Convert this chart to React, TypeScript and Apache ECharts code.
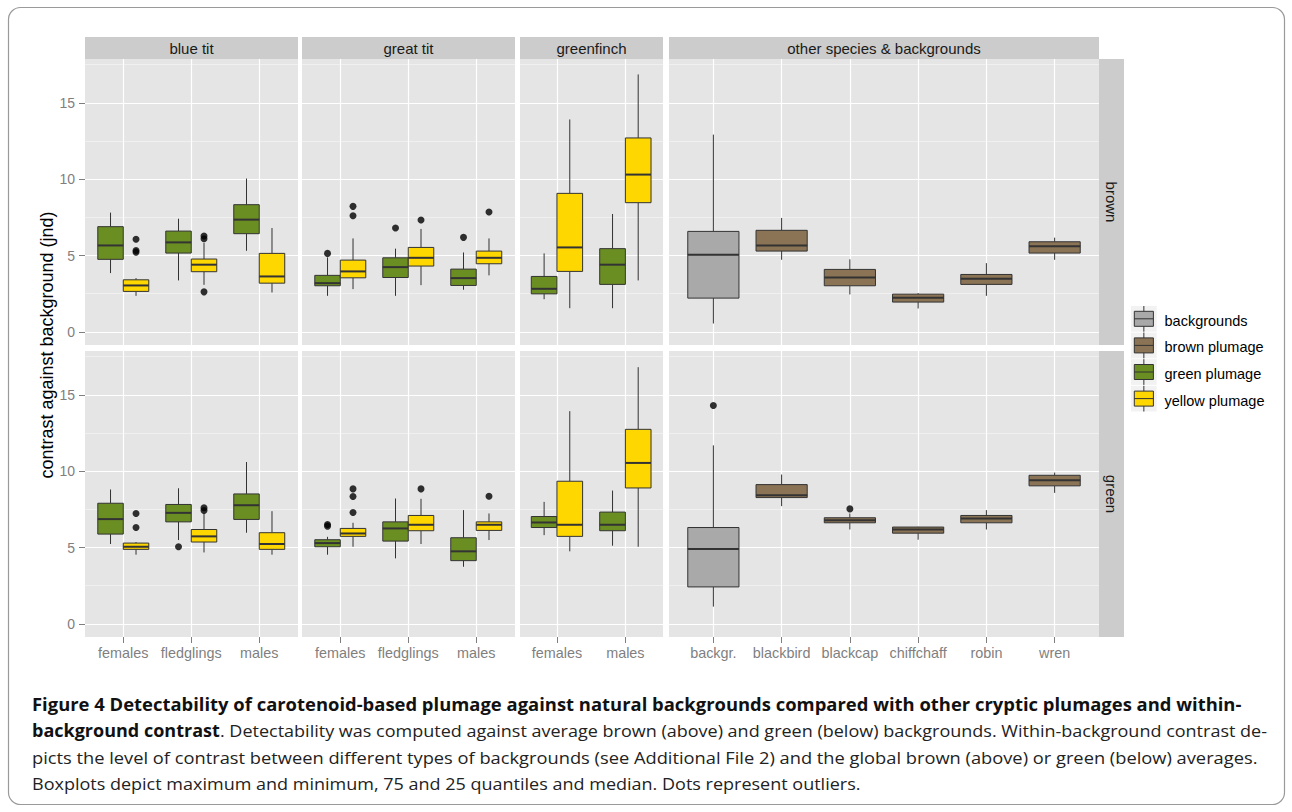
import React, { useEffect, useRef } from "react";
import * as echarts from "echarts";

// ---------- categories & labels ----------
const blueTitCats = ["females", "fledglings", "males"];
const greatTitCats = ["females", "fledglings", "males"];
const greenfinchCats = ["females", "males"];
const otherCats = ["backgr.", "blackbird", "blackcap", "chiffchaff", "robin", "wren"];
const panelTitles = ["blue tit", "great tit", "greenfinch", "other species & backgrounds"];
const rowTitles = ["brown", "green"];
const yTicks = [0, 5, 10, 15];
const yMinorTicks = [2.5, 7.5, 12.5, 17.5];
const legendLabels = ["backgrounds", "brown plumage", "green plumage", "yellow plumage"];
const yTitle = "contrast against background (jnd)";

// ---------- box statistics: [min, Q1, median, Q3, max] ----------
// brown background (upper row)
const blueTitBrownGreen = [[3.85, 4.75, 5.66, 6.89, 7.81], [3.37, 5.16, 5.86, 6.6, 7.41], [5.31, 6.43, 7.35, 8.33, 10.04]];
const blueTitBrownYellow = [[2.36, 2.65, 3.04, 3.41, 3.52], [3.08, 3.94, 4.4, 4.77, 5.82], [2.58, 3.19, 3.63, 5.14, 6.8]];
const greatTitBrownGreen = [[2.36, 3.02, 3.19, 3.7, 4.88], [2.36, 3.56, 4.24, 4.85, 5.45], [2.76, 3.04, 3.52, 4.11, 5.2]];
const greatTitBrownYellow = [[2.8, 3.54, 3.96, 4.7, 6.12], [3.06, 4.31, 4.85, 5.53, 6.74], [3.7, 4.46, 4.85, 5.29, 6.12]];
const greenfinchBrownGreen = [[2.14, 2.49, 2.82, 3.63, 5.14], [1.55, 3.11, 4.4, 5.45, 7.72]];
const greenfinchBrownYellow = [[1.55, 3.96, 5.53, 9.07, 13.91], [3.37, 8.46, 10.3, 12.7, 16.86]];
const backgroundsBrown = [[0.55, 2.21, 5.05, 6.58, 12.92]];
const brownPlumageBrown = [[4.72, 5.29, 5.66, 6.65, 7.46], [2.45, 3.02, 3.56, 4.09, 4.75], [1.53, 1.95, 2.23, 2.47, 2.54], [2.36, 3.11, 3.48, 3.76, 4.5], [4.72, 5.16, 5.6, 5.9, 6.17]];

// green background (lower row)
const blueTitGreenGreen = [[5.23, 5.88, 6.86, 7.9, 8.8], [5.49, 6.68, 7.27, 7.82, 8.88], [5.97, 6.84, 7.77, 8.51, 10.6]];
const blueTitGreenYellow = [[4.53, 4.88, 5.05, 5.29, 5.36], [4.68, 5.36, 5.73, 6.18, 7.22], [4.53, 4.88, 5.23, 5.97, 7.38]];
const greatTitGreenGreen = [[4.53, 5.05, 5.29, 5.51, 5.7], [4.29, 5.42, 6.25, 6.68, 8.21], [3.74, 4.14, 4.75, 5.64, 7.45]];
const greatTitGreenYellow = [[5.05, 5.73, 5.92, 6.25, 6.62], [5.23, 6.1, 6.49, 7.1, 8.19], [5.49, 6.12, 6.49, 6.68, 7.23]];
const greenfinchGreenGreen = [[5.81, 6.31, 6.64, 7.03, 7.99], [5.12, 6.1, 6.49, 7.32, 8.73]];
const greenfinchGreenYellow = [[4.75, 5.73, 6.49, 9.34, 13.93], [5.05, 8.9, 10.54, 12.74, 16.81]];
const backgroundsGreen = [[1.13, 2.42, 4.9, 6.31, 11.69]];
const brownPlumageGreen = [[7.71, 8.27, 8.43, 9.12, 9.78], [6.18, 6.62, 6.79, 6.95, 7.23], [5.51, 5.94, 6.18, 6.34, 6.36], [6.18, 6.62, 6.9, 7.1, 7.45], [8.58, 9.04, 9.41, 9.73, 9.91]];

// ---------- outliers: [category index, value] ----------
const blueTitBrownGreenOut: number[][] = [];
const blueTitBrownYellowOut = [[0, 6.06], [0, 5.22], [0, 5.33], [1, 6.1], [1, 6.28], [1, 2.62]];
const greatTitBrownGreenOut = [[0, 5.14], [1, 6.8], [2, 6.19]];
const greatTitBrownYellowOut = [[0, 8.22], [0, 7.6], [1, 7.33], [2, 7.85]];
const blueTitGreenGreenOut = [[1, 5.05]];
const blueTitGreenYellowOut = [[0, 7.23], [0, 6.31], [1, 7.6], [1, 7.42]];
const greatTitGreenGreenOut = [[0, 6.51], [0, 6.4]];
const greatTitGreenYellowOut = [[0, 8.84], [0, 8.34], [0, 7.29], [1, 8.84], [2, 8.36]];
const backgroundsGreenOut = [[0, 14.3]];
const brownPlumageGreenOut = [[2, 7.53]];
const noOut: number[][] = [];

// ---------- styles ----------
const GRAY = "#A9A9A9";
const BROWN = "#8B7355";
const GREEN = "#6B8E23";
const YELLOW = "#FFD700";
const legendColors = [GRAY, BROWN, GREEN, YELLOW];
const EDGE = "#333333";
const AXIS_GREY = "#7F7F7F";
const FONT = "Liberation Sans";

const columns = [
  { cats: blueTitCats, left: 85, width: 213, min: -0.563, max: 2.57 },
  { cats: greatTitCats, left: 302, width: 213, min: -0.563, max: 2.57 },
  { cats: greenfinchCats, left: 520, width: 143, min: -0.54, max: 1.55 },
  { cats: otherCats, left: 669, width: 430, min: -0.65, max: 5.65 },
];
const rows = [
  { top: 59, height: 286 },
  { top: 351, height: 286 },
];
const Y_MIN = -0.86;
const Y_MAX = 17.87;
const D = 0.1875;

type Group = { stats: number[][]; out: number[][]; color: string; start: number; dx: number; hw: number };
const panelGroups: Group[][][] = [
  [
    [
      { stats: blueTitBrownGreen, out: blueTitBrownGreenOut, color: GREEN, start: 0, dx: -D, hw: D },
      { stats: blueTitBrownYellow, out: blueTitBrownYellowOut, color: YELLOW, start: 0, dx: D, hw: D },
    ],
    [
      { stats: greatTitBrownGreen, out: greatTitBrownGreenOut, color: GREEN, start: 0, dx: -D, hw: D },
      { stats: greatTitBrownYellow, out: greatTitBrownYellowOut, color: YELLOW, start: 0, dx: D, hw: D },
    ],
    [
      { stats: greenfinchBrownGreen, out: noOut, color: GREEN, start: 0, dx: -D, hw: D },
      { stats: greenfinchBrownYellow, out: noOut, color: YELLOW, start: 0, dx: D, hw: D },
    ],
    [
      { stats: backgroundsBrown, out: noOut, color: GRAY, start: 0, dx: 0, hw: 2 * D },
      { stats: brownPlumageBrown, out: noOut, color: BROWN, start: 1, dx: 0, hw: 2 * D },
    ],
  ],
  [
    [
      { stats: blueTitGreenGreen, out: blueTitGreenGreenOut, color: GREEN, start: 0, dx: -D, hw: D },
      { stats: blueTitGreenYellow, out: blueTitGreenYellowOut, color: YELLOW, start: 0, dx: D, hw: D },
    ],
    [
      { stats: greatTitGreenGreen, out: greatTitGreenGreenOut, color: GREEN, start: 0, dx: -D, hw: D },
      { stats: greatTitGreenYellow, out: greatTitGreenYellowOut, color: YELLOW, start: 0, dx: D, hw: D },
    ],
    [
      { stats: greenfinchGreenGreen, out: noOut, color: GREEN, start: 0, dx: -D, hw: D },
      { stats: greenfinchGreenYellow, out: noOut, color: YELLOW, start: 0, dx: D, hw: D },
    ],
    [
      { stats: backgroundsGreen, out: backgroundsGreenOut, color: GRAY, start: 0, dx: 0, hw: 2 * D },
      { stats: brownPlumageGreen, out: brownPlumageGreenOut, color: BROWN, start: 1, dx: 0, hw: 2 * D },
    ],
  ],
];

const captionBold1 =
  "Figure 4 Detectability of carotenoid-based plumage against natural backgrounds compared with other cryptic plumages and within-";
const captionBold2 = "background contrast";
const captionNormal2 =
  ". Detectability was computed against average brown (above) and green (below) backgrounds. Within-background contrast de-";
const captionNormal3 =
  "picts the level of contrast between different types of backgrounds (see Additional File 2) and the global brown (above) or green (below) averages.";
const captionNormal4 =
  "Boxplots depict maximum and minimum, 75 and 25 quantiles and median. Dots represent outliers.";

function boxRender(fill: string) {
  return (_params: any, api: any) => {
    const x = api.value(0);
    const hw = api.value(6);
    const lo = api.coord([x, api.value(1)]);
    const q1 = api.coord([x, api.value(2)]);
    const md = api.coord([x, api.value(3)]);
    const q3 = api.coord([x, api.value(4)]);
    const hi = api.coord([x, api.value(5)]);
    const xl = api.coord([x - hw, api.value(3)])[0];
    const xr = api.coord([x + hw, api.value(3)])[0];
    return {
      type: "group",
      children: [
        { type: "line", shape: { x1: lo[0], y1: lo[1], x2: q1[0], y2: q1[1] }, style: { stroke: EDGE, lineWidth: 1 } },
        { type: "line", shape: { x1: q3[0], y1: q3[1], x2: hi[0], y2: hi[1] }, style: { stroke: EDGE, lineWidth: 1 } },
        {
          type: "rect",
          shape: { x: xl, y: q3[1], width: xr - xl, height: q1[1] - q3[1] },
          style: { fill, stroke: EDGE, lineWidth: 1 },
        },
        { type: "line", shape: { x1: xl, y1: md[1], x2: xr, y2: md[1] }, style: { stroke: EDGE, lineWidth: 2 } },
      ],
    };
  };
}

function measure(font: string, text: string): number {
  const c = document.createElement("canvas").getContext("2d");
  if (!c) return text.length * 8;
  c.font = font;
  return c.measureText(text).width;
}

function txt(x: number, y: number, text: string, o: any = {}) {
  const { rotation, scaleX, ...style } = o;
  return {
    type: "text",
    x,
    y,
    rotation: rotation || 0,
    scaleX: scaleX || 1,
    silent: true,
    style: {
      text,
      fontFamily: FONT,
      fontSize: 14,
      fill: "#1A1A1A",
      align: "center",
      textAlign: "center",
      verticalAlign: "middle",
      textVerticalAlign: "middle",
      ...style,
    },
  };
}

function buildOption() {
  const grid: any[] = [];
  const xAxis: any[] = [];
  const yAxis: any[] = [];
  const series: any[] = [];
  const graphic: any[] = [];

  rows.forEach((row, r) => {
    columns.forEach((col, c) => {
      const g = grid.length;
      grid.push({
        left: col.left,
        top: row.top,
        width: col.width,
        height: row.height,
        show: true,
        backgroundColor: "#E5E5E5",
        borderWidth: 0,
        containLabel: false,
        outerBoundsMode: "none",
      });
      const catIdx = col.cats.map((_, i) => i);
      xAxis.push({
        type: "value",
        gridIndex: g,
        min: col.min,
        max: col.max,
        position: "bottom",
        axisLine: { show: false, onZero: false },
        axisTick: { show: r === 1, length: 6, customValues: catIdx, lineStyle: { color: AXIS_GREY, width: 1 } },
        axisLabel: {
          show: r === 1,
          customValues: catIdx,
          formatter: (v: number) => col.cats[Math.round(v)] ?? "",
          color: AXIS_GREY,
          fontSize: 14.4,
          fontFamily: FONT,
          margin: 9,
        },
        splitLine: { show: true, lineStyle: { color: "#FFFFFF", width: 1.2 } },
      });
      const yMajor = yAxis.length;
      yAxis.push({
        type: "value",
        gridIndex: g,
        min: Y_MIN,
        max: Y_MAX,
        position: "left",
        axisLine: { show: false, onZero: false },
        axisTick: { show: c === 0, length: 6, customValues: yTicks, lineStyle: { color: AXIS_GREY, width: 1 } },
        axisLabel: { show: c === 0, customValues: yTicks, color: AXIS_GREY, fontSize: 14, fontFamily: FONT, margin: 10 },
        splitLine: { show: true, lineStyle: { color: "#FFFFFF", width: 1.2 } },
        z: 1,
      });
      yAxis.push({
        type: "value",
        gridIndex: g,
        min: Y_MIN,
        max: Y_MAX,
        position: "right",
        axisLine: { show: false, onZero: false },
        axisTick: { show: false, customValues: yMinorTicks },
        axisLabel: { show: false, customValues: yMinorTicks },
        splitLine: { show: true, lineStyle: { color: "#F2F2F2", width: 0.8 } },
        z: 0,
      });

      panelGroups[r][c].forEach((grp) => {
        series.push({
          type: "custom",
          xAxisIndex: g,
          yAxisIndex: yMajor,
          dimensions: ["x", "min", "q1", "med", "q3", "max", "hw"],
          encode: { x: 0, y: [1, 2, 3, 4, 5] },
          renderItem: boxRender(grp.color),
          data: grp.stats.map((s, i) => [grp.start + i + grp.dx, ...s, grp.hw]),
          silent: true,
          z: 3,
        });
        if (grp.out.length) {
          series.push({
            type: "scatter",
            xAxisIndex: g,
            yAxisIndex: yMajor,
            symbol: "circle",
            symbolSize: 7,
            itemStyle: { color: "#000000" },
            data: grp.out.map((p) => [p[0] + grp.dx, p[1]]),
            silent: true,
            z: 4,
          });
        }
      });

      // top strips
      if (r === 0) {
        graphic.push({
          type: "rect",
          shape: { x: col.left, y: 37, width: col.width, height: 22 },
          style: { fill: "#CCCCCC" },
          silent: true,
        });
        graphic.push(txt(col.left + col.width / 2, 48.5, panelTitles[c], { fontSize: 15 }));
      }
    });
    // right strips
    graphic.push({
      type: "rect",
      shape: { x: 1099, y: row.top, width: 25, height: row.height },
      style: { fill: "#CCCCCC" },
      silent: true,
    });
    graphic.push(txt(1111.5, row.top + row.height / 2, rowTitles[r], { fontSize: 15, rotation: -Math.PI / 2 }));
  });

  // y-axis title
  graphic.push(txt(47, 345, yTitle, { fontSize: 18, fill: "#000000", rotation: Math.PI / 2 }));

  // legend
  legendLabels.forEach((label, i) => {
    const kx = 1131;
    const ky = 306 + i * 26.6;
    const ks = 25.7;
    graphic.push({ type: "rect", shape: { x: kx, y: ky, width: ks, height: ks }, style: { fill: "#F2F2F2" }, silent: true });
    graphic.push({
      type: "line",
      shape: { x1: kx + ks / 2, y1: ky, x2: kx + ks / 2, y2: ky + ks },
      style: { stroke: EDGE, lineWidth: 1 },
      silent: true,
    });
    graphic.push({
      type: "rect",
      shape: { x: kx + 3.3, y: ky + 5.3, width: ks - 6.6, height: 15 },
      style: { fill: legendColors[i], stroke: EDGE, lineWidth: 1 },
      silent: true,
    });
    graphic.push({
      type: "line",
      shape: { x1: kx + 3.3, y1: ky + 12.8, x2: kx + ks - 3.3, y2: ky + 12.8 },
      style: { stroke: EDGE, lineWidth: 1 },
      silent: true,
    });
    graphic.push(txt(1164.5, ky + ks / 2 + 2, label, { fontSize: 14.5, fill: "#000000", align: "left", textAlign: "left" }));
  });

  // caption
  const CF = "Open Sans";
  const CS = 17;
  const capLeft = 32;
  const boldFont = `bold ${CS}px "${CF}"`;
  const normFont = `${CS}px "${CF}"`;
  const capStyle = (bold: boolean) => ({
    fontFamily: CF,
    fontSize: CS,
    fontWeight: bold ? "bold" : "normal",
    fill: bold ? "#111111" : "#222222",
    align: "left",
    textAlign: "left",
  });
  const lineYs = [704, 730.5, 757, 783.5];
  const w1 = measure(boldFont, captionBold1);
  const s1 = 1210 / w1;
  graphic.push(txt(capLeft, lineYs[0], captionBold1, { ...capStyle(true), scaleX: s1 }));
  const wb2 = measure(boldFont, captionBold2);
  const wn2 = measure(normFont, captionNormal2);
  const s2 = 1236 / (wb2 + wn2);
  graphic.push(txt(capLeft, lineYs[1], captionBold2, { ...capStyle(true), scaleX: s2 }));
  graphic.push(txt(capLeft + wb2 * s2, lineYs[1], captionNormal2, { ...capStyle(false), scaleX: s2 }));
  const w3 = measure(normFont, captionNormal3);
  graphic.push(txt(capLeft, lineYs[2], captionNormal3, { ...capStyle(false), scaleX: 1227 / w3 }));
  const w4 = measure(normFont, captionNormal4);
  graphic.push(txt(capLeft, lineYs[3], captionNormal4, { ...capStyle(false), scaleX: 829 / w4 }));

  // frame
  graphic.push({
    type: "rect",
    shape: { x: 8.5, y: 7.5, width: 1276, height: 797, r: 12 },
    style: { fill: "none", stroke: "#9A9A9A", lineWidth: 1.2 },
    silent: true,
    z: -10,
  });

  return {
    animation: false,
    backgroundColor: "#FFFFFF",
    textStyle: { fontFamily: FONT },
    tooltip: { show: false },
    grid,
    xAxis,
    yAxis,
    series,
    graphic: { elements: graphic },
  };
}

export default function App() {
  const ref = useRef<HTMLDivElement>(null);
  useEffect(() => {
    if (!ref.current) return;
    document.body.style.margin = "0";
    const chart = echarts.init(ref.current, undefined, { renderer: "svg" });
    chart.setOption(buildOption() as any);
    return () => chart.dispose();
  }, []);
  return <div ref={ref} style={{ width: 1292, height: 812 }} />;
}
